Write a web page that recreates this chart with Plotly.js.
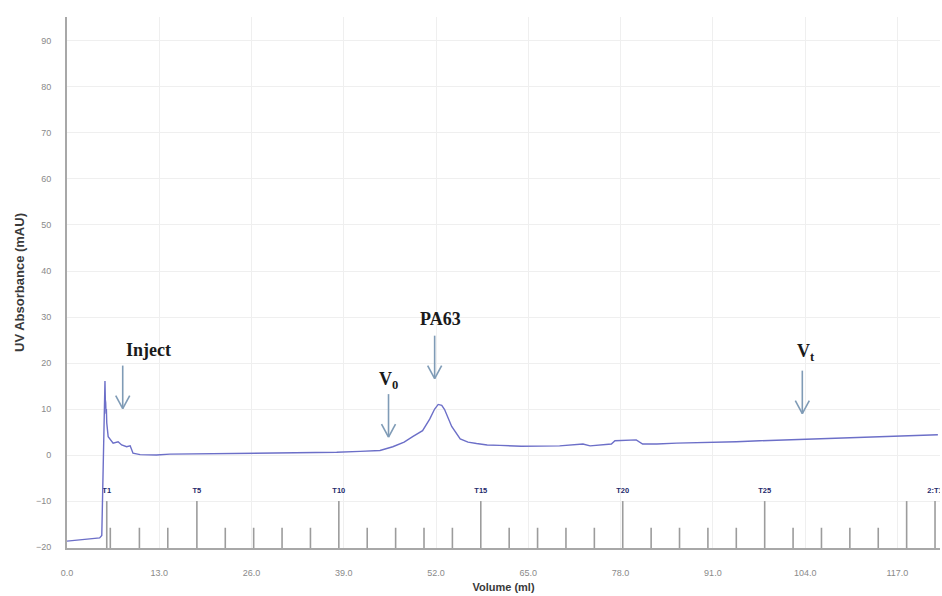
<!DOCTYPE html>
<html>
<head>
<meta charset="utf-8">
<script src="https://cdn.plot.ly/plotly-3.0.1.min.js"></script>
<style>html,body{margin:0;padding:0;background:#fff;}#chart{width:942px;height:596px;}</style>
</head>
<body>
<div id="chart"></div>
<script>
// Chromatogram trace (Volume in mL, UV absorbance in mAU)
const volume = [0, 4.6, 4.9, 5.3, 5.35, 5.4, 5.45, 5.5, 5.55, 5.6, 5.8, 6.5, 7.2, 7.7, 8.4, 8.9, 9.3, 10.3, 12.6, 14.5, 20, 25, 30, 35, 38, 41.3, 44.1, 45.9, 47.5, 48.7, 50.1, 51.1, 51.8, 52.3, 52.8, 53.2, 54.2, 55.4, 56.5, 57.7, 59.2, 61, 64, 69.4, 72.7, 73.7, 76.7, 77.2, 80.2, 81.1, 83.1, 85.9, 90.6, 94.3, 97.6, 103.2, 107, 112.6, 117, 122.7];
const absorbance = [-18.7, -18.0, -17.5, 14, 16.1, 12, 11.4, 9, 10, 7, 4.0, 2.6, 2.9, 2.2, 1.8, 2.0, 0.4, 0.1, 0.0, 0.2, 0.3, 0.3, 0.4, 0.5, 0.6, 0.8, 1.0, 1.8, 2.8, 4.0, 5.3, 7.8, 10.0, 11.0, 10.8, 9.9, 6.2, 3.5, 2.8, 2.5, 2.2, 2.1, 1.9, 2.0, 2.4, 2.0, 2.4, 3.1, 3.3, 2.4, 2.4, 2.6, 2.7, 2.9, 3.1, 3.4, 3.6, 3.9, 4.1, 4.4];

// Fraction collector marks
const fractionX = [5.6, 6.1, 10.2, 14.2, 18.3, 22.3, 26.3, 30.3, 34.3, 38.3, 42.3, 46.3, 50.3, 54.3, 58.3, 62.3, 66.3, 70.3, 74.3, 78.3, 82.3, 86.3, 90.3, 94.3, 98.3, 102.3, 106.3, 110.3, 114.3, 118.3, 122.3];
const fractionTall = [1, 0, 0, 0, 1, 0, 0, 0, 0, 1, 0, 0, 0, 0, 1, 0, 0, 0, 0, 1, 0, 0, 0, 0, 1, 0, 0, 0, 0, 1, 1];
const fractionLabelX = [5.6, 18.3, 38.3, 58.3, 78.3, 98.3, 122.3];
const fractionLabels = ["T1", "T5", "T10", "T15", "T20", "T25", "2:T1"];
const fracBase = -20.2, fracTallTop = -10, fracShortTop = -15.8, fracLabelY = -7.8;

// Arrow annotations
const markLabels = ["Inject", "V<sub>0</sub>", "PA63", "V<sub>t</sub>"];
const markLabelX = [11.5, 45.3, 52.6, 104.1];
const markLabelY = [22.8, 16.2, 29.6, 22.3];
const arrowTipX = [7.85, 45.3, 51.8, 103.6];
const arrowTipY = [10.1, 3.9, 16.6, 9.0];

// Axis ticks
const xTickStep = 13, yTickStep = 10;

const tallX = [], tallY = [], shortX = [], shortY = [];
fractionX.forEach((x, i) => {
  if (fractionTall[i]) { tallX.push(x, x, null); tallY.push(fracBase, fracTallTop, null); }
  else { shortX.push(x, x, null); shortY.push(fracBase, fracShortTop, null); }
});

const traces = [
  {x: tallX, y: tallY, mode: 'lines', line: {color: '#9c9c9c', width: 1.6}, hoverinfo: 'skip', showlegend: false},
  {x: shortX, y: shortY, mode: 'lines', line: {color: '#9c9c9c', width: 1.6}, hoverinfo: 'skip', showlegend: false},
  {x: fractionLabelX, y: fractionLabelX.map(() => fracLabelY), mode: 'text', text: fractionLabels,
   textfont: {family: 'Liberation Sans, Arial', size: 7.5, color: '#1f2a6b', weight: 'bold'}, cliponaxis: true, hoverinfo: 'skip', showlegend: false},
  {x: volume, y: absorbance, mode: 'lines', line: {color: '#6c6fc8', width: 1.4}, showlegend: false}
];

const shapes = [];
const arrowColor = '#7f9bb6';
arrowTipX.forEach((x, i) => {
  const base = {type: 'line', xref: 'x', yref: 'y', xsizemode: 'pixel', ysizemode: 'pixel', xanchor: x, yanchor: arrowTipY[i], line: {color: arrowColor, width: 1.6}};
  shapes.push(Object.assign({}, base, {x0: 0, x1: 0, y0: 0, y1: 43}));
  shapes.push(Object.assign({}, base, {x0: -7, x1: 0, y0: 13, y1: 0}));
  shapes.push(Object.assign({}, base, {x0: 7, x1: 0, y0: 13, y1: 0}));
});

const annotations = markLabels.map((t, i) => ({
  x: markLabelX[i], y: markLabelY[i], xref: 'x', yref: 'y', text: '<b>' + t + '</b>', showarrow: false,
  font: {family: 'Liberation Serif, Times New Roman, serif', size: 18, color: '#1a1a1a'}
}));

const tickFont = {family: 'Liberation Sans, Arial', size: 9, color: '#8a8a8a'};
const layout = {
  width: 942, height: 596,
  margin: {l: 67, r: 2, t: 17, b: 48},
  paper_bgcolor: '#ffffff', plot_bgcolor: '#ffffff',
  showlegend: false,
  xaxis: {
    range: [0, 123], tick0: 0, dtick: xTickStep, tickformat: '.1f',
    showline: true, linecolor: '#a8a8a8', linewidth: 2, mirror: false,
    showgrid: true, gridcolor: '#efefef', gridwidth: 1, zeroline: false,
    ticks: 'outside', ticklen: 15, tickcolor: 'rgba(0,0,0,0)', tickfont: tickFont,
    title: {text: '<b>Volume (ml)</b>', font: {family: 'Liberation Sans, Arial', size: 11, color: '#3a3a3a'}, standoff: 7}
  },
  yaxis: {
    range: [-20.2, 95.2], tick0: 0, dtick: yTickStep,
    showline: true, linecolor: '#a8a8a8', linewidth: 2,
    showgrid: true, gridcolor: '#efefef', gridwidth: 1, zeroline: false,
    ticks: 'outside', ticklen: 12, tickcolor: 'rgba(0,0,0,0)', tickfont: tickFont,
    title: {text: '<b>UV Absorbance (mAU)</b>', font: {family: 'Liberation Sans, Arial', size: 13, color: '#3a3a3a'}, standoff: 8}
  },
  shapes: shapes,
  annotations: annotations
};

Plotly.newPlot('chart', traces, layout, {displayModeBar: false, staticPlot: true});
</script>
</body>
</html>
